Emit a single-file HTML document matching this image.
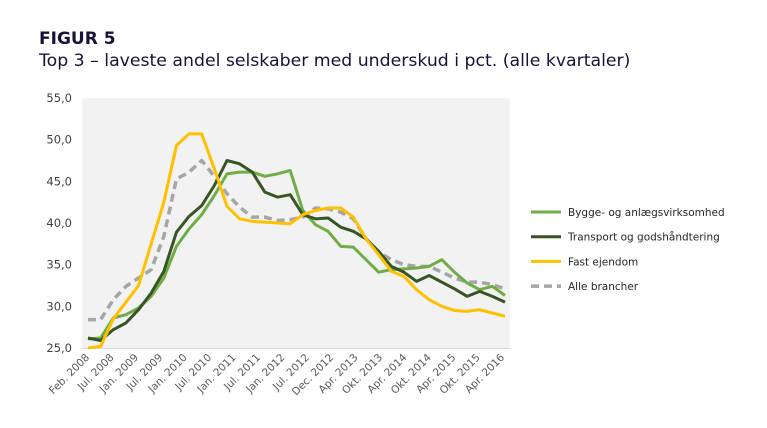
<!DOCTYPE html>
<html><head><meta charset="utf-8"><style>
body{margin:0;background:#fff;width:767px;height:424px;overflow:hidden;font-family:"DejaVu Sans","Liberation Sans",sans-serif}
</style></head><body>
<svg width="767" height="424" xmlns="http://www.w3.org/2000/svg" font-family="DejaVu Sans, Liberation Sans, sans-serif">
<text x="39" y="44" font-size="17" font-weight="bold" fill="#14143a">FIGUR 5</text>
<text x="39" y="66" font-size="17.3" fill="#14143a">Top 3 – laveste andel selskaber med underskud i pct. (alle kvartaler)</text>
<rect x="82" y="98" width="428" height="250" fill="#f2f2f2"/>
<line x1="82" y1="348.5" x2="510" y2="348.5" stroke="#d9d9d9"/>
<g id="yt"></g><g id="xt"></g><g id="series"></g><g id="legend"></g>
</svg>
<script>
const yTicks=[25,30,35,40,45,50,55];
const xLabels=["Feb. 2008","Jul. 2008","Jan. 2009","Jul. 2009","Jan. 2010","Jul. 2010","Jan. 2011","Jul. 2011","Jan. 2012","Jul. 2012","Dec. 2012","Apr. 2013","Okt. 2013","Apr. 2014","Okt. 2014","Apr. 2015","Okt. 2015","Apr. 2016"];
const bygge=[26.1,26.2,28.6,29.0,29.8,31.2,33.4,37.2,39.3,41.0,43.3,45.9,46.1,46.1,45.6,45.9,46.3,41.5,39.8,39.0,37.2,37.1,35.6,34.1,34.4,34.5,34.6,34.8,35.6,34.1,32.8,32.0,32.4,31.3];
const transport=[26.2,25.9,27.2,28.0,29.6,31.6,34.2,38.9,40.8,42.1,44.5,47.5,47.1,46.1,43.7,43.1,43.4,41.0,40.5,40.6,39.5,39.0,38.1,36.6,34.8,34.1,33.0,33.7,32.9,32.1,31.2,31.8,31.2,30.5];
const fast=[25.0,25.2,28.5,30.5,32.5,37.5,42.5,49.3,50.7,50.7,46.5,42.0,40.5,40.2,40.1,40.0,39.9,41.0,41.5,41.8,41.8,40.7,38.1,36.2,34.2,33.6,32.0,30.8,30.0,29.5,29.4,29.6,29.2,28.8];
const alle=[28.4,28.4,30.8,32.4,33.4,34.4,38.4,45.3,46.1,47.5,45.6,43.5,41.9,40.7,40.7,40.3,40.4,40.7,41.8,41.7,41.3,40.5,38.1,36.5,35.6,35.0,34.8,34.8,34.1,33.4,32.9,32.9,32.6,32.1];
const names=["Bygge- og anlægsvirksomhed","Transport og godshåndtering","Fast ejendom","Alle brancher"];
const NS="http://www.w3.org/2000/svg";
const y=v=>348-(v-25)*(250/30);
const n=bygge.length;
const x=i=>88+i*(417/(n-1));
const xl=j=>90+j*(415/(xLabels.length-1));
function mk(t,a,p){const e=document.createElementNS(NS,t);for(const k in a)e.setAttribute(k,a[k]);p.appendChild(e);return e;}
const yt=document.getElementById('yt');
yTicks.forEach(v=>{const t=mk('text',{x:72,y:y(v)+4,'font-size':11.5,fill:'#404040','text-anchor':'end'},yt);t.textContent=v.toFixed(1).replace('.',',');

});
const xt=document.getElementById('xt');
xLabels.forEach((l,j)=>{const t=mk('text',{x:0,y:0,'font-size':10.5,fill:'#595959','text-anchor':'end',transform:`translate(${xl(j)},358) rotate(-45)`},xt);t.textContent=l;

});
const styles=[{c:'#70ad47',w:3,d:''},{c:'#375623',w:3,d:''},{c:'#ffc000',w:3,d:''},{c:'#a6a6a6',w:3.5,d:'8,5'}];
const sg=document.getElementById('series');
const order=[3,0,1,2];
const data=[bygge,transport,fast,alle];
order.forEach(k=>{const s=styles[k];const p=mk('polyline',{points:data[k].map((v,i)=>x(i)+','+y(v)).join(' '),fill:'none',stroke:s.c,'stroke-width':s.w,'stroke-dasharray':s.d,'stroke-linejoin':'round'},sg);

});
const lg=document.getElementById('legend');
names.forEach((nm,k)=>{const s=styles[k];const yy=212+k*24.7;
const g=mk('g',{},lg);


mk('line',{x1:531,y1:yy,x2:561,y2:yy,stroke:s.c,'stroke-width':s.w,'stroke-dasharray':s.d},g);
const t=mk('text',{x:568,y:yy+4,'font-size':10.5,fill:'#262626'},g);t.textContent=nm;});
</script>
</body></html>
